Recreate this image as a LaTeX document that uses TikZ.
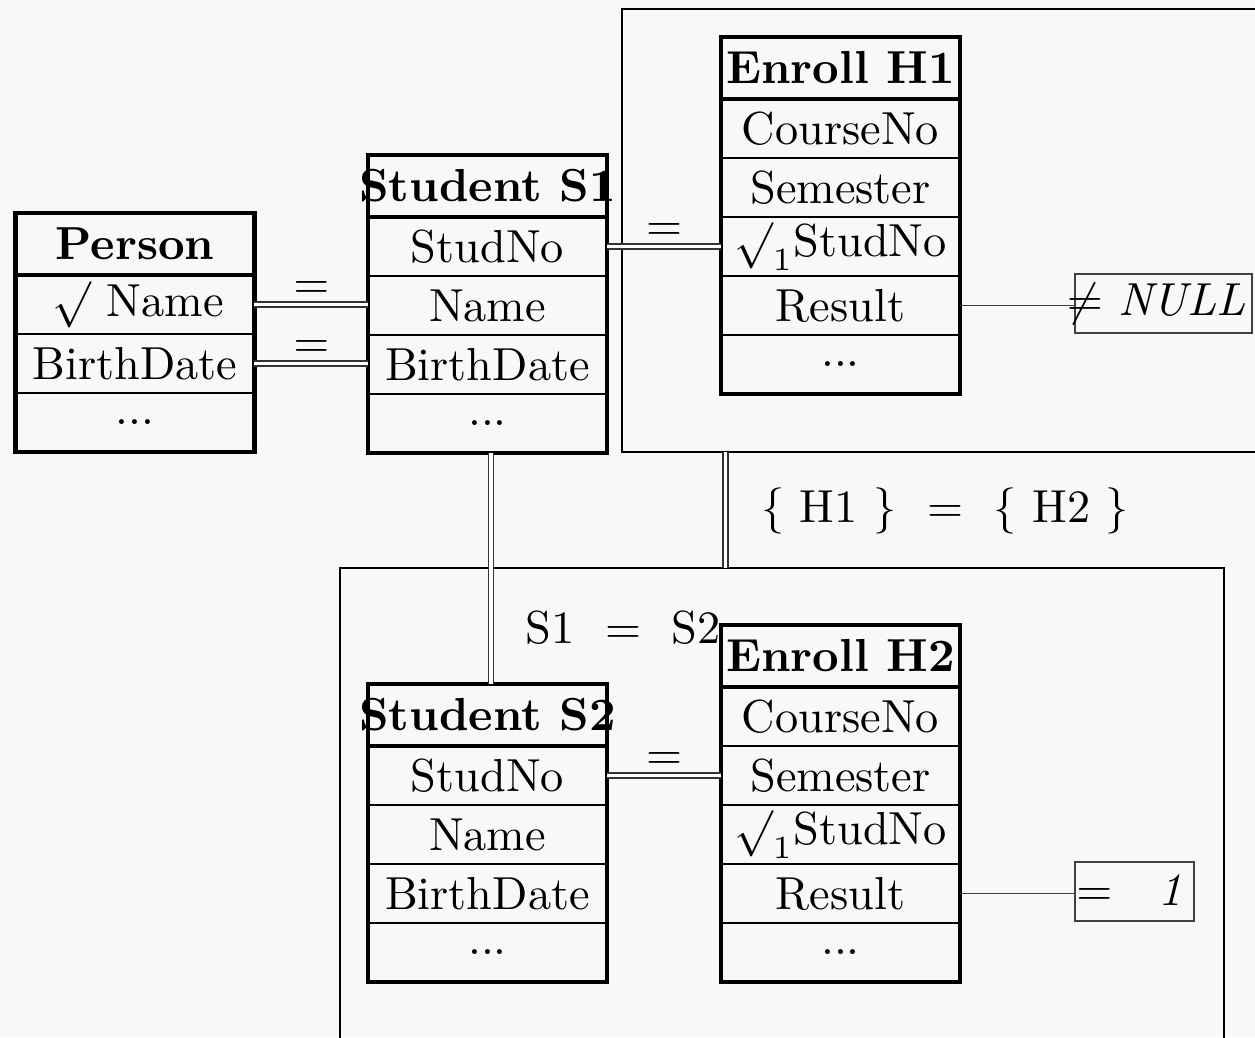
\documentclass[tikz,border=0pt]{standalone}
\usetikzlibrary{fit}
\definecolor{bg}{HTML}{F8F8F8}
\begin{document}
\begin{tikzpicture}[x=0.216pt,y=-0.216pt,
  cell/.style={draw, line width=0.4pt, minimum width=51.6pt, minimum height=12.74pt,
    inner sep=0pt, outer sep=0pt, anchor=north},
  hdr/.style={cell, minimum height=13.4pt, font=\bfseries},
  outline/.style={draw, line width=0.9pt, inner sep=0pt, outer sep=0pt},
  rule/.style={line width=0.9pt},
  dbl/.style={draw=black!80, double, double distance=0.7pt, line width=0.33pt},
  frame/.style={draw, line width=0.45pt, inner sep=0pt, outer sep=0pt, anchor=north west},
  lnk/.style={line width=0.3pt, draw=black!75},
  valbox/.style={draw=black!75, line width=0.3pt, minimum height=12.74pt,
    inner sep=0pt, outer sep=0pt, anchor=north west},
  eqlab/.style={anchor=base, inner sep=0pt, yshift=1.4pt}
]
\path[use as bounding box, fill=bg] (0,0) rectangle (1255,1037);
\clip (0,0) rectangle (1255,1037);

% scopes of the two enrollment tuples
\node[frame, minimum width=146.5pt, minimum height=95.7pt] (fh1) at (622,9) {};
\node[frame, minimum width=190.9pt, minimum height=115pt] (fh2) at (340,568) {};

% Person
\node[hdr] (p-h) at (135,213) {Person};
\node[cell] (p-1) at (p-h.south) {\hspace{1.5pt}$\surd$ Name};
\node[cell] (p-2) at (p-1.south) {BirthDate};
\node[cell] (p-3) at (p-2.south) {...};
\node[outline, fit=(p-h)(p-3)] (p-box) {};
\draw[rule] (p-h.south west) -- (p-h.south east);

% Student S1
\node[hdr] (s1-h) at (487.5,155) {\makebox[0pt]{Student S1}};
\node[cell] (s1-1) at (s1-h.south) {StudNo};
\node[cell] (s1-2) at (s1-1.south) {Name};
\node[cell] (s1-3) at (s1-2.south) {BirthDate};
\node[cell] (s1-4) at (s1-3.south) {...};
\node[outline, fit=(s1-h)(s1-4)] (s1-box) {};
\draw[rule] (s1-h.south west) -- (s1-h.south east);

% Enroll H1
\node[hdr] (h1-h) at (840.5,37) {Enroll H1};
\node[cell] (h1-1) at (h1-h.south) {CourseNo};
\node[cell] (h1-2) at (h1-1.south) {Semester};
\node[cell] (h1-3) at (h1-2.south) {$\surd_1$StudNo};
\node[cell] (h1-4) at (h1-3.south) {Result};
\node[cell] (h1-5) at (h1-4.south) {...};
\node[outline, fit=(h1-h)(h1-5)] (h1-box) {};
\draw[rule] (h1-h.south west) -- (h1-h.south east);

% Student S2
\node[hdr] (s2-h) at (487.5,684) {\makebox[0pt]{Student S2}};
\node[cell] (s2-1) at (s2-h.south) {StudNo};
\node[cell] (s2-2) at (s2-1.south) {Name};
\node[cell] (s2-3) at (s2-2.south) {BirthDate};
\node[cell] (s2-4) at (s2-3.south) {...};
\node[outline, fit=(s2-h)(s2-4)] (s2-box) {};
\draw[rule] (s2-h.south west) -- (s2-h.south east);

% Enroll H2
\node[hdr] (h2-h) at (840.5,625) {Enroll H2};
\node[cell] (h2-1) at (h2-h.south) {CourseNo};
\node[cell] (h2-2) at (h2-1.south) {Semester};
\node[cell] (h2-3) at (h2-2.south) {$\surd_1$StudNo};
\node[cell] (h2-4) at (h2-3.south) {Result};
\node[cell] (h2-5) at (h2-4.south) {...};
\node[outline, fit=(h2-h)(h2-5)] (h2-box) {};
\draw[rule] (h2-h.south west) -- (h2-h.south east);

% value conditions
\node[valbox, minimum width=38.2pt] (nb) at (1075,274) {};
\node[anchor=base west, inner sep=0pt] (nt) at (1066,315) {$\neq$ \textit{NULL}};
\node[valbox, minimum width=25.7pt] (ob) at (1075,862) {};
\node[anchor=base west, inner sep=0pt] (ot) at (1075.5,905) {$=$\quad\textit{1}};
\draw[lnk] (h1-4.east) -- (h1-4.east -| nb.west);
\draw[lnk] (h2-4.east) -- (h2-4.east -| ob.west);

% equality links
\draw[dbl] (p-1.east) -- (p-1.east -| s1-2.west) node[eqlab, midway] {$=$};
\draw[dbl] (p-2.east) -- (p-2.east -| s1-3.west) node[eqlab, midway] {$=$};
\draw[dbl] (s1-1.east) -- (s1-1.east -| h1-3.west) node[eqlab, midway] {$=$};
\draw[dbl] (s2-1.east) -- (s2-1.east -| h2-2.west) node[eqlab, midway] {$=$};

\coordinate (vs) at (491,0);
\coordinate (vh) at (725.5,0);
\draw[dbl] (s1-box.south -| vs) -- (s2-box.north -| vs);
\draw[dbl] (fh1.south -| vh) -- (fh2.north -| vh);

\node[anchor=base] (lab-s) at (623,643) {S1~~$=$~~S2};
\node[anchor=base] (lab-h) at (945,522) {$\{$ H1 $\}$~~$=$~~$\{$ H2 $\}$};
\end{tikzpicture}
\end{document}
